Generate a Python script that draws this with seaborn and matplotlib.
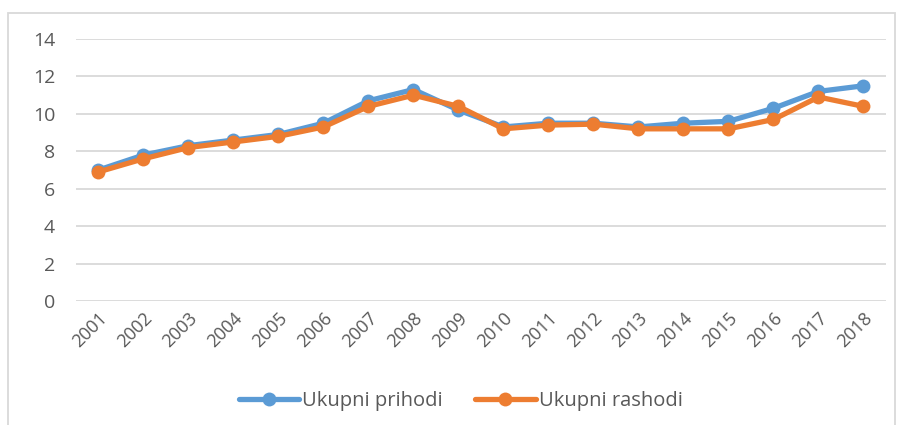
import pandas as pd
import matplotlib.pyplot as plt
import seaborn as sns
from matplotlib.patches import Rectangle

years = [str(y) for y in range(2001, 2019)]
prihodi = [7.0, 7.8, 8.3, 8.6, 8.9, 9.5, 10.7, 11.3, 10.2, 9.3, 9.5, 9.5, 9.3, 9.5, 9.6, 10.3, 11.2, 11.5]
rashodi = [6.9, 7.6, 8.2, 8.5, 8.8, 9.3, 10.4, 11.0, 10.4, 9.2, 9.4, 9.45, 9.2, 9.2, 9.2, 9.7, 10.9, 10.4]
series = ["Ukupni prihodi", "Ukupni rashodi"]
colors = ["#5B9BD5", "#ED7D31"]

df = pd.DataFrame({"year": years * 2,
                   "value": prihodi + rashodi,
                   "series": [series[0]] * len(years) + [series[1]] * len(years)})

sns.set_style("white")
plt.rcParams["font.family"] = ["Open Sans", "DejaVu Sans"]

fig = plt.figure(figsize=(9.03, 4.25), dpi=100)
ax = fig.add_axes([76 / 903, 1 - 301 / 425, 810 / 903, 262 / 425])

sns.lineplot(data=df, x="year", y="value", hue="series", palette=colors,
             marker="o", markersize=10, linewidth=3.8, markeredgewidth=0,
             sort=False, ax=ax)

ax.set_xlim(-0.5, len(years) - 0.5)
ax.set_ylim(0, 14)
ax.set_yticks(range(0, 15, 2))
ax.yaxis.grid(True, color="#D9D9D9", linewidth=1.3)
ax.set_axisbelow(True)
for s in ax.spines.values():
    s.set_visible(False)
ax.set_xlabel("")
ax.set_ylabel("")
ax.tick_params(axis="both", length=0, labelsize=13, labelcolor="#595959")
ax.tick_params(axis="y", labelsize=14, pad=15)
ax.tick_params(axis="x", pad=6)
plt.setp(ax.get_xticklabels(), rotation=45, ha="right", rotation_mode="anchor")

leg = ax.legend(loc="upper center", bbox_to_anchor=(0.475, -0.275), ncol=2,
                frameon=False, fontsize=14.5, handlelength=3.0, columnspacing=1.6,
                handletextpad=0.15)
for t in leg.get_texts():
    t.set_color("#595959")

fig.patches.append(Rectangle((8 / 903, -0.05), 887 / 903, 1 - 13 / 425 + 0.05,
                             transform=fig.transFigure, fill=False,
                             edgecolor="#D9D9D9", linewidth=1.3))

fig.savefig("out.png", dpi=100)
